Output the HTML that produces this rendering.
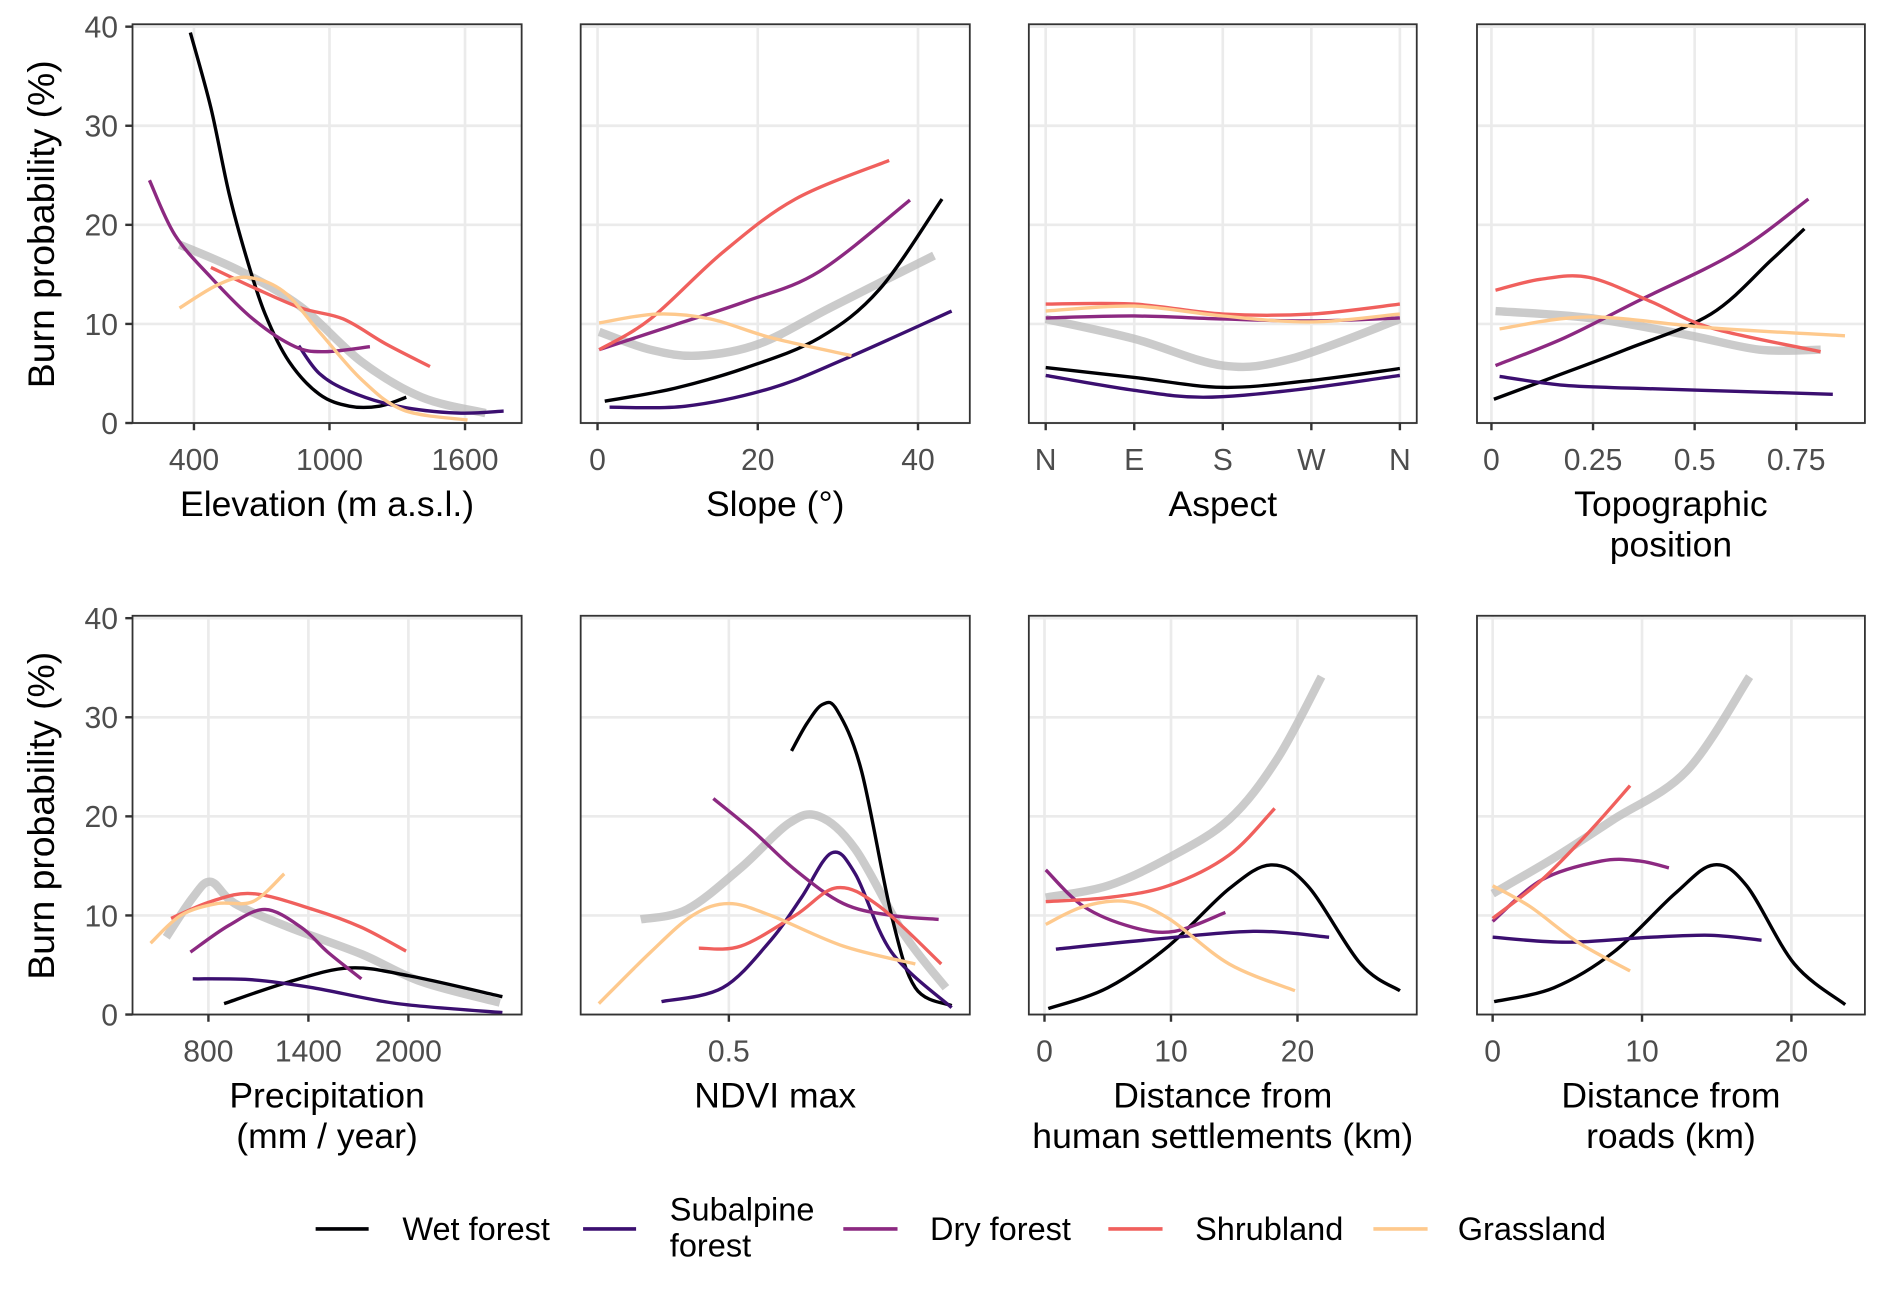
<!DOCTYPE html>
<html><head><meta charset="utf-8"><style>
html,body{margin:0;padding:0;background:#fff;}
svg{display:block;font-family:"Liberation Sans",Arial,sans-serif;}
</style></head><body>
<svg id="chart" width="1889" height="1299" viewBox="0 0 1568 1078" xmlns="http://www.w3.org/2000/svg">
<g id="plots"></g>
<text transform="translate(45,186) rotate(-90)" text-anchor="middle" font-size="31" fill="#000">Burn probability (%)</text>
<text transform="translate(45,677) rotate(-90)" text-anchor="middle" font-size="31" fill="#000">Burn probability (%)</text>
<g font-size="27" fill="#000">
 <g><line x1="262" y1="1020" x2="306" y2="1020" stroke="#000004" stroke-width="3"/><text x="334" y="1029">Wet forest</text></g>
 <g><line x1="484" y1="1020" x2="528" y2="1020" stroke="#3b0f70" stroke-width="3"/><text x="556" y="1013">Subalpine</text><text x="556" y="1043">forest</text></g>
 <g><line x1="700" y1="1020" x2="745" y2="1020" stroke="#8c2981" stroke-width="3"/><text x="772" y="1029">Dry forest</text></g>
 <g><line x1="920" y1="1020" x2="965" y2="1020" stroke="#f0605d" stroke-width="3"/><text x="992" y="1029">Shrubland</text></g>
 <g><line x1="1140" y1="1020" x2="1185" y2="1020" stroke="#fec98d" stroke-width="3"/><text x="1210" y="1029">Grassland</text></g>
</g>
</svg>
<script>
// ---- data: [x, burn probability %] ----
const elev_wet=[[384,39.4],[475,31.8],[555,23.2],[635,16.5],[715,11],[821,6.2],[955,2.9],[1088,1.7],[1221,1.7],[1340,2.6]];
const elev_sub=[[864,7.8],[955,5],[1088,3.2],[1301,1.7],[1568,1.0],[1771,1.2]];
const elev_dry=[[203,24.5],[315,19],[475,14.7],[661,10.5],[848,7.7],[981,7.2],[1179,7.7]];
const elev_shr=[[475,15.7],[661,13.7],[875,11.6],[1061,10.5],[1248,8],[1445,5.7]];
const elev_gra=[[336,11.6],[501,13.9],[635,14.7],[795,13.3],[955,9.2],[1141,4.4],[1328,1.3],[1611,0.3]];
const elev_all=[[336,18],[608,15.3],[875,11.7],[1141,6.2],[1408,2.6],[1691,1.0]];
const slope_wet=[[0.9,2.2],[9.6,3.5],[18.6,5.6],[27.7,8.6],[35.2,13.5],[43,22.6]];
const slope_sub=[[1.5,1.6],[11,1.7],[21.6,3.5],[30.7,6.4],[44.2,11.3]];
const slope_dry=[[0.2,7.4],[9.6,9.9],[18.6,12.3],[27.7,15.3],[39,22.5]];
const slope_shr=[[0.2,7.4],[6.6,10.5],[15.6,17.2],[24.7,22.6],[36.4,26.5]];
const slope_gra=[[0.2,10.1],[7.4,11],[14.1,10.5],[21.7,8.6],[31.7,6.8]];
const slope_all=[[0.2,9.2],[6.6,7.4],[12.6,6.8],[20.2,8],[29.2,11.7],[42,16.9]];
const asp_wet=[[0,5.6],[90,4.6],[180,3.6],[270,4.3],[360,5.5]];
const asp_sub=[[0,4.8],[90,3.3],[160,2.6],[250,3.3],[360,4.8]];
const asp_dry=[[0,10.6],[90,10.8],[180,10.5],[270,10.3],[360,10.6]];
const asp_shr=[[0,12],[90,12],[180,11],[270,11],[360,12]];
const asp_gra=[[0,11.3],[90,11.8],[180,10.8],[270,10.2],[360,11]];
const asp_all=[[0,10.5],[90,8.5],[180,5.8],[250,6.5],[360,10.5]];
const topo_wet=[[0.006,2.4],[0.15,4.6],[0.33,7.4],[0.54,11],[0.69,16.5],[0.77,19.6]];
const topo_sub=[[0.02,4.7],[0.18,3.8],[0.36,3.5],[0.6,3.2],[0.84,2.9]];
const topo_dry=[[0.01,5.8],[0.18,8.6],[0.36,12.3],[0.6,17.2],[0.78,22.6]];
const topo_shr=[[0.01,13.4],[0.12,14.5],[0.24,14.7],[0.39,12.3],[0.54,9.6],[0.81,7.2]];
const topo_gra=[[0.02,9.5],[0.24,10.7],[0.54,9.6],[0.87,8.8]];
const topo_all=[[0.01,11.3],[0.24,10.6],[0.48,8.9],[0.66,7.4],[0.81,7.4]];
const prec_wet=[[894,1.1],[1284,3.3],[1646,4.7],[2007,3.9],[2564,1.8]];
const prec_sub=[[706,3.6],[1067,3.5],[1429,2.7],[1935,1.1],[2564,0.2]];
const prec_dry=[[692,6.3],[923,9],[1140,10.6],[1357,8.8],[1516,6.3],[1718,3.6]];
const prec_shr=[[576,9.7],[814,11.4],[1067,12.2],[1429,10.6],[1718,8.8],[1986,6.4]];
const prec_gra=[[453,7.2],[634,10],[851,11.2],[1067,11.4],[1255,14.2]];
const prec_all=[[547,7.8],[706,11.8],[814,13.4],[959,11.2],[1284,8.8],[1718,6.1],[2080,3.3],[2549,1.2]];
const ndvi_wet=[[0.621,26.6],[0.651,29.4],[0.681,31.3],[0.709,30.7],[0.756,24.6],[0.814,10],[0.86,2.7],[0.93,0.9]];
const ndvi_sub=[[0.37,1.3],[0.488,2.7],[0.581,7.5],[0.64,11.8],[0.698,16.3],[0.744,14.2],[0.814,6.3],[0.93,0.7]];
const ndvi_dry=[[0.47,21.8],[0.547,18.5],[0.628,14.6],[0.721,11.2],[0.814,10],[0.905,9.6]];
const ndvi_shr=[[0.442,6.7],[0.523,6.9],[0.628,10],[0.709,12.8],[0.791,10.9],[0.91,5.1]];
const ndvi_gra=[[0.249,1.1],[0.349,6.3],[0.43,10],[0.5,11.2],[0.581,10],[0.721,6.9],[0.86,5.1]];
const ndvi_all=[[0.33,9.6],[0.419,10.6],[0.523,14.8],[0.616,19.3],[0.674,20],[0.744,16.7],[0.837,8.2],[0.919,2.7]];
const sett_wet=[[0.3,0.6],[5,2.7],[9.8,6.9],[14.6,12.7],[17.9,15.1],[20.8,13],[25,5.1],[28.1,2.4]];
const sett_sub=[[0.9,6.6],[7.9,7.5],[16.5,8.4],[22.5,7.8]];
const sett_dry=[[0.1,14.6],[3.1,10.9],[7,8.8],[10.3,8.4],[14.3,10.3]];
const sett_shr=[[0.1,11.4],[5,11.8],[9.8,13],[14.6,16.1],[18.2,20.8]];
const sett_gra=[[0.1,9.1],[3.1,10.9],[6.5,11.4],[9.8,9.7],[14.6,5.1],[19.8,2.4]];
const sett_all=[[0.1,11.8],[5,13],[9.8,15.8],[14.6,19.7],[18.4,25.8],[21.9,34.1]];
const road_wet=[[0.1,1.3],[4.1,2.7],[8.1,6.3],[12.2,12.2],[14.8,15.1],[17,13],[20.2,5.1],[23.6,1]];
const road_sub=[[0,7.8],[4.9,7.3],[10.6,7.8],[14.6,8],[18,7.5]];
const road_dry=[[0,9.4],[3.3,13.6],[7.3,15.5],[9.8,15.5],[11.8,14.8]];
const road_shr=[[0,9.7],[3.3,13.6],[6.5,18.5],[9.2,23.1]];
const road_gra=[[0,13],[2.5,10.9],[5.7,7.3],[9.2,4.4]];
const road_all=[[0,12.2],[4.1,15.8],[8.1,19.7],[13,24.6],[17.2,34.1]];
const yTicks=[0,10,20,30,40];

const NS='http://www.w3.org/2000/svg';
const root=document.getElementById('plots');
function mk(tag,attrs,parent){const e=document.createElementNS(NS,tag);for(const k in attrs)e.setAttribute(k,attrs[k]);parent.appendChild(e);return e;}
function smooth(pts){let d='M'+pts[0][0]+','+pts[0][1];for(let i=0;i<pts.length-1;i++){const p0=pts[i-1]||pts[i],p1=pts[i],p2=pts[i+1],p3=pts[i+2]||p2;
 d+=' C'+(p1[0]+(p2[0]-p0[0])/6)+','+(p1[1]+(p2[1]-p0[1])/6)+' '+(p2[0]-(p3[0]-p1[0])/6)+','+(p2[1]-(p3[1]-p1[1])/6)+' '+p2[0]+','+p2[1];}return d;}
const cols={wet:'#000004',sub:'#3b0f70',dry:'#8c2981',shr:'#f0605d',gra:'#fec98d'};
const panels=[
 {n:'elevation',x0:110,x1:433,row:0,a:161,va:400,b:386,vb:1600,ticks:[400,1000,1600],lab:['400','1000','1600'],title:['Elevation (m a.s.l.)'],s:[elev_all,elev_wet,elev_sub,elev_dry,elev_shr,elev_gra],yl:true},
 {n:'slope',x0:482,x1:805,row:0,a:496,va:0,b:762,vb:40,ticks:[0,20,40],lab:['0','20','40'],title:['Slope (°)'],s:[slope_all,slope_wet,slope_sub,slope_dry,slope_shr,slope_gra]},
 {n:'aspect',x0:854,x1:1176,row:0,a:868,va:0,b:1162,vb:360,ticks:[0,90,180,270,360],lab:['N','E','S','W','N'],title:['Aspect'],s:[asp_all,asp_wet,asp_sub,asp_dry,asp_shr,asp_gra]},
 {n:'topographic-position',x0:1226,x1:1548,row:0,a:1238,va:0,b:1491,vb:0.75,ticks:[0,0.25,0.5,0.75],lab:['0','0.25','0.5','0.75'],title:['Topographic','position'],s:[topo_all,topo_wet,topo_sub,topo_dry,topo_shr,topo_gra]},
 {n:'precipitation',x0:110,x1:433,row:1,a:173,va:800,b:339,vb:2000,ticks:[800,1400,2000],lab:['800','1400','2000'],title:['Precipitation','(mm / year)'],s:[prec_all,prec_wet,prec_sub,prec_dry,prec_shr,prec_gra],yl:true},
 {n:'ndvi-max',x0:482,x1:805,row:1,a:605,va:0.5,b:820,vb:1.0,ticks:[0.5],lab:['0.5'],title:['NDVI max'],s:[ndvi_all,ndvi_wet,ndvi_sub,ndvi_dry,ndvi_shr,ndvi_gra]},
 {n:'distance-settlements',x0:854,x1:1176,row:1,a:867,va:0,b:1077,vb:20,ticks:[0,10,20],lab:['0','10','20'],title:['Distance from','human settlements (km)'],s:[sett_all,sett_wet,sett_sub,sett_dry,sett_shr,sett_gra]},
 {n:'distance-roads',x0:1226,x1:1548,row:1,a:1239,va:0,b:1487,vb:20,ticks:[0,10,20],lab:['0','10','20'],title:['Distance from','roads (km)'],s:[road_all,road_wet,road_sub,road_dry,road_shr,road_gra]}
];
const keys=['all','wet','sub','dry','shr','gra'];
panels.forEach(p=>{
 const top=p.row?511:20,bot=p.row?842:351,y0=p.row?842:351,y40=p.row?513:22;
 const X=v=>p.a+(v-p.va)*(p.b-p.a)/(p.vb-p.va);
 const Y=v=>y0+(y40-y0)*v/40;
 const g=mk('g',{},root);
 
 
 yTicks.forEach(t=>{const l=mk('line',{x1:p.x0,x2:p.x1,y1:Y(t),y2:Y(t),stroke:'#ebebeb','stroke-width':2.2},g);
  });
 p.ticks.forEach(t=>{const l=mk('line',{x1:X(t),x2:X(t),y1:top,y2:bot,stroke:'#ebebeb','stroke-width':2.2},g);
  });
 p.s.forEach((ser,i)=>{const k=keys[i];
  const path=mk('path',{d:smooth(ser.map(q=>[X(q[0]),Y(q[1])])),fill:'none',stroke:k==='all'?'#bebebe':cols[k],'stroke-width':k==='all'?7:2.8,'stroke-opacity':k==='all'?0.8:1,'stroke-linecap':'butt'},g);
  
  });
 const fr=mk('rect',{x:p.x0,y:top,width:p.x1-p.x0,height:bot-top,fill:'none',stroke:'#333','stroke-width':1.5},g);
 
 p.ticks.forEach((t,i)=>{mk('line',{x1:X(t),x2:X(t),y1:bot,y2:bot+6,stroke:'#333','stroke-width':2},g);
  const tx=mk('text',{x:X(t),y:bot+39,'text-anchor':'middle','font-size':25,fill:'#4d4d4d'},g);tx.textContent=p.lab[i];
  });
 if(p.yl){yTicks.forEach(t=>{mk('line',{x1:p.x0-6,x2:p.x0,y1:Y(t),y2:Y(t),stroke:'#333','stroke-width':2},g);
  const tx=mk('text',{x:p.x0-12,y:Y(t)+9,'text-anchor':'end','font-size':25,fill:'#4d4d4d'},g);tx.textContent=t;
  });}
 const cx=(p.x0+p.x1)/2;
 p.title.forEach((s,i)=>{const tx=mk('text',{x:cx,y:bot+77+i*34,'text-anchor':'middle','font-size':29.5,fill:'#000'},g);tx.textContent=s;
  });
});
</script>
</body></html>
